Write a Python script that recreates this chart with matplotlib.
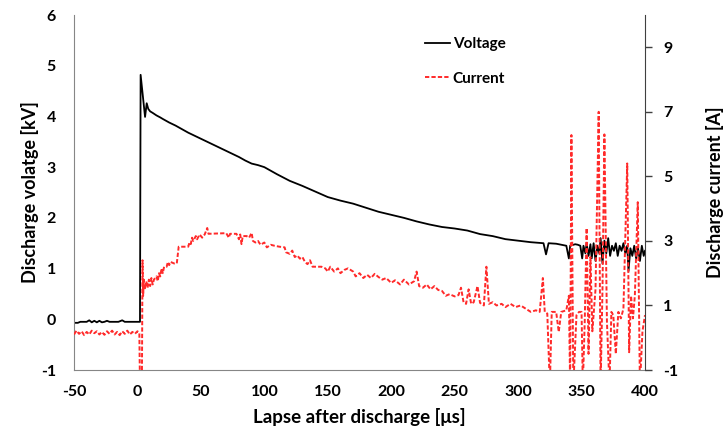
import matplotlib
matplotlib.use("Agg")
import matplotlib.pyplot as plt

plt.rcParams['font.family'] = ['Lato', 'DejaVu Sans']
plt.rcParams['font.weight'] = 'bold'
plt.rcParams['axes.unicode_minus'] = False

# ---- data -----------------------------------------------------------
volt_t = [-50, -47, -45, -40, -38, -36, -34, -32, -30, -28, -26, -24, -22, -20, -15, -12, -10, -5, 0, 2,
          2.5, 6.0, 7.3, 8.5, 10, 12, 15, 18, 20, 25, 30, 35, 40, 45, 50, 55, 60, 65, 70, 75, 80, 85, 90,
          95, 100, 110, 120, 130, 140, 150, 160, 170, 180, 190, 200, 210, 220, 230, 240, 250, 260, 270,
          280, 290, 300, 310, 320, 322, 324, 330, 338, 340, 341,
          345, 347, 349, 350.5, 351.5, 353, 354, 355.5, 357, 358, 359.5, 361, 362.5, 364, 365, 366.5,
          368, 369.5, 371, 372.5, 374, 375.5, 377, 378.5, 380, 381.5, 383, 384.5, 386, 387, 388.5, 390,
          391.5, 393, 394.5, 396, 397.5, 399, 400]
volt_kv = [-0.07, -0.07, -0.05, -0.05, -0.02, -0.06, -0.03, -0.06, -0.03, -0.06, -0.05, -0.03, -0.05,
           -0.05, -0.05, -0.02, -0.05, -0.05, -0.05, -0.05,
           4.82, 3.99, 4.26, 4.15, 4.1, 4.07, 4.02, 3.98, 3.95, 3.88, 3.82, 3.75, 3.68, 3.62, 3.56, 3.5,
           3.44, 3.38, 3.32, 3.26, 3.2, 3.13, 3.07, 3.04, 3.0, 2.86, 2.73, 2.63, 2.52, 2.41, 2.34, 2.28,
           2.2, 2.12, 2.06, 2.0, 1.93, 1.87, 1.82, 1.79, 1.75, 1.68, 1.64, 1.58, 1.55, 1.52, 1.5, 1.28,
           1.5, 1.49, 1.45, 1.2, 1.45,
           1.48, 1.47, 1.45, 1.2, 1.45, 1.3, 1.5, 1.25, 1.48, 1.2, 1.5, 1.15, 1.45, 1.3, 1.6, 1.1,
           1.55, 1.3, 1.6, 1.25, 1.45, 1.35, 1.5, 1.25, 1.45, 1.35, 1.5, 1.3, 1.45, 0.95, 1.4, 1.25,
           1.45, 1.2, 1.4, 1.15, 1.45, 1.25, 1.35]

curr_t = [-50, -48, -46, -44, -42, -40, -38, -36, -34, -32, -30, -28, -26, -24, -22, -20, -18, -16,
          -14, -12, -10, -8, -6, -4, -2, 0, 1.5, 2.0, 3.5, 4.0, 4.5, 5, 6, 7, 8, 9, 10, 11, 12, 13, 15,
          16, 17, 18, 19, 20, 21, 23, 24, 25, 26, 29, 31, 32.5, 40, 41, 42, 43, 44, 46, 47, 49, 51, 53,
          55, 56, 70, 72, 73, 78, 80, 81, 82, 83, 86, 88, 90, 91, 93, 95, 97, 100, 102, 105, 108, 112,
          116, 117, 120, 122, 124, 126, 128, 130, 132, 134, 136, 138, 145, 148, 150, 152, 155, 158,
          160, 163, 166, 170, 172, 175, 178, 181, 184, 187, 190, 193, 196, 200, 203, 207, 210, 214,
          218, 220, 222, 225, 228, 231, 234, 237, 240, 243, 246, 250, 253, 255, 257, 259, 261, 263,
          265, 268, 270, 273, 275, 277, 280, 283, 287, 290, 294, 298, 302, 306, 310, 314, 317, 319.5,
          321, 323, 325, 326.5, 330, 332, 334, 338, 340, 341, 342, 343.5, 346, 348, 350, 351, 352.5,
          354, 355.5, 357, 358.5, 361, 363.5, 365, 366.5, 368, 370, 372, 373.5, 375, 377, 379, 381,
          383, 386, 387.5, 389, 390.5, 392, 394.3, 396, 398, 400]
curr_a = [0.1, 0.22, 0.12, 0.2, 0.08, 0.18, 0.1, 0.22, 0.14, 0.2, 0.1, 0.18, 0.09, 0.2, 0.12, 0.22,
          0.1, 0.18, 0.08, 0.2, 0.12, 0.22, 0.1, 0.18, 0.12, 0.2, 0.15, -1.5, -1.5, 2.4, 1.3, 1.8, 1.5,
          1.75, 1.55, 1.8, 1.6, 1.85, 1.65, 1.8, 1.9, 1.75, 2.0, 1.9, 2.15, 2.0, 2.2, 2.2, 2.35, 2.25,
          2.35, 2.3, 2.3, 2.82, 2.82, 2.95, 2.9, 3.1, 3.0, 3.15, 3.05, 3.2, 3.1, 3.2, 3.4, 3.22, 3.24,
          3.1, 3.22, 3.22, 3.05, 3.2, 2.9, 3.15, 3.15, 3.1, 3.25, 3.0, 2.95, 3.0, 2.88, 2.95, 2.8,
          2.88, 2.85, 2.82, 2.8, 2.65, 2.6, 2.7, 2.5, 2.55, 2.45, 2.5, 2.35, 2.28, 2.4, 2.2, 2.2, 2.15,
          2.05, 2.2, 2.05, 2.15, 2.0, 2.1, 2.15, 2.05, 1.9, 2.0, 1.85, 1.95, 1.85, 1.98, 1.88, 1.8,
          1.85, 1.7, 1.78, 1.65, 1.8, 1.65, 1.75, 2.05, 1.6, 1.55, 1.65, 1.5, 1.6, 1.48, 1.45, 1.3,
          1.35, 1.28, 1.32, 1.55, 1.1, 1.05, 1.5, 1.05, 1.1, 1.6, 1.08, 1.0, 2.2, 1.05, 1.1, 1.0, 1.05,
          0.95, 1.05, 0.95, 1.0, 0.9, 0.8, 0.85, 0.8, 1.85, 0.8, 0.75, -1.5, 0.8, 0.8, 0.18, 0.8, 0.85,
          1.3, -1.5, 6.28, -1.5, 0.7, 0.8, 0.8, -1.5, 0.5, 3.4, -0.5, 2.5, 0.2, 1.5, 7.0, -1.5, 1.5,
          6.3, 0.5, -1.5, 0.8, 0.7, -0.5, 0.8, 0.6, 0.9, 5.4, -0.45, 1.3, 0.6, 1.3, 4.2, -1.5, 0.2, 0.7]

x_ticks = [-50, 0, 50, 100, 150, 200, 250, 300, 350, 400]
v_ticks = [-1, 0, 1, 2, 3, 4, 5, 6]
a_ticks = [-1, 1, 3, 5, 7, 9]

# ---- figure ---------------------------------------------------------
fig = plt.figure(figsize=(7.25, 4.37), dpi=100)
ax = fig.add_axes([74/725, 1-370/437, (645-74)/725, (370-15)/437])
ax2 = ax.twinx()
ax2.set_position(ax.get_position())

black_line, = ax.plot(volt_t, volt_kv, color='black', lw=1.3, label='Voltage')
red_line, = ax2.plot(curr_t, curr_a, color='#ff2a2a', lw=1.4, dashes=(2.2, 1.1), label='Current')

ax.set_xlim(-50, 400)
ax.set_ylim(-1, 6)
ax2.set_ylim(-1, 10)
ax.set_xticks(x_ticks)
ax.set_yticks(v_ticks)
ax2.set_yticks(a_ticks)

ax.tick_params(axis='both', length=0, pad=11, labelsize=11.5)
ax.tick_params(axis='y', pad=13)
ax2.tick_params(axis='y', length=5, width=1, pad=8, labelsize=11.5, color='#404040')
for lab in ax.get_xticklabels() + ax.get_yticklabels() + ax2.get_yticklabels():
    lab.set_fontweight('bold')

for a in (ax, ax2):
    a.spines['top'].set_visible(False)
ax.spines['left'].set_color('#868686')
ax.spines['bottom'].set_color('#868686')
ax.spines['right'].set_visible(False)
ax2.spines['left'].set_visible(False)
ax2.spines['bottom'].set_visible(False)
ax2.spines['right'].set_color('#404040')

ax.set_xlabel('Lapse after discharge [μs]', fontsize=13.5, fontweight='bold', labelpad=6)
ax.set_ylabel('Discharge volatge [kV]', fontsize=13, fontweight='bold', labelpad=1)
ax2.set_ylabel('Discharge current [A]', fontsize=13, fontweight='bold', rotation=90, labelpad=20)

leg = ax2.legend(handles=[black_line, red_line], loc='upper left', bbox_to_anchor=(0.615, 0.938),
                 frameon=False, borderpad=0, borderaxespad=0, handlelength=1.6, handletextpad=0.2,
                 labelspacing=1.35, prop=dict(size=11, weight='bold'))

fig.savefig('out.png', dpi=100)
